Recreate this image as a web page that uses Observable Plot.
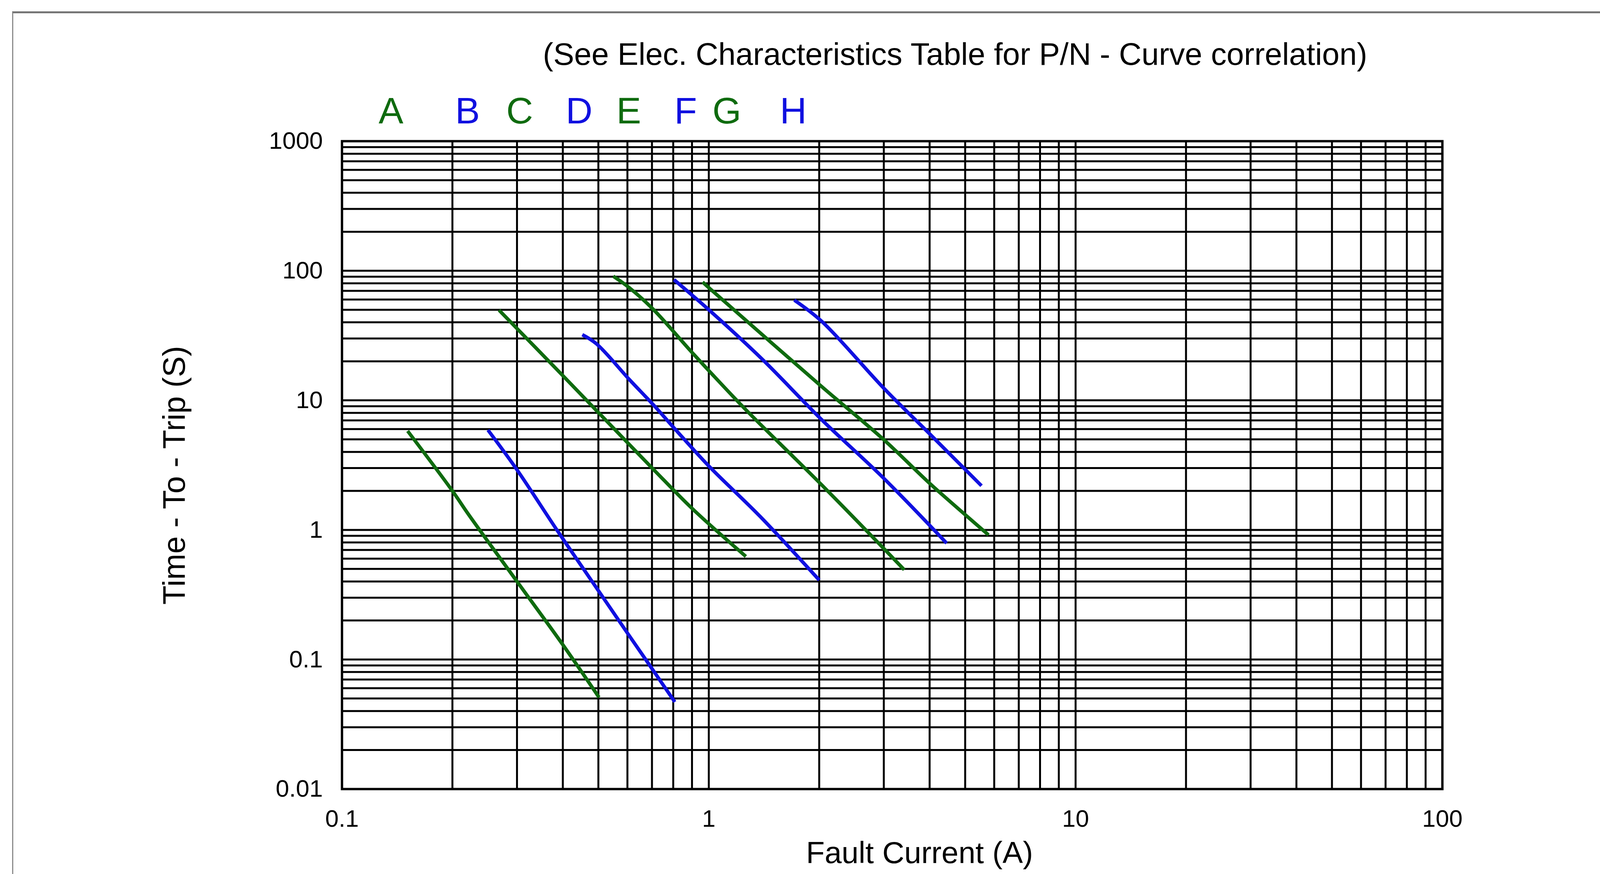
<!DOCTYPE html>
<html>
<head>
<meta charset="utf-8">
<script src="https://cdn.jsdelivr.net/npm/d3@7"></script>
<script src="https://cdn.jsdelivr.net/npm/@observablehq/plot@0.6"></script>
<style>
  html, body { margin: 0; padding: 0; background: #ffffff; overflow: hidden; }
  body { width: 4251px; height: 2238px; position: relative; font-family: "Liberation Sans", Arial, Helvetica, sans-serif; }
  #sheet { position: absolute; left: 31px; top: 29px; width: 4300px; height: 2300px;
           border-top: 5px solid #767676; border-left: 3px solid #8c8c8c; pointer-events: none; }
  #header { position: relative; height: 200px; }
  #title { position: absolute; left: 2445px; top: 99px; transform: translateX(-50%);
           font-size: 80px; line-height: 80px; white-space: nowrap; color: #000; }
  #chart svg { display: block; }
</style>
</head>
<body>
<div id="sheet"></div>
<div id="header"><div id="title">(See Elec. Characteristics Table for P/N - Curve correlation)</div></div>
<div id="chart"></div>
<script>
// ---- data ----
const curveNames = ["A", "B", "C", "D", "E", "F", "G", "H"];

const currentA = [0.151, 0.2, 0.222, 0.3, 0.4, 0.502];
const timeA    = [5.8, 2.0, 1.3, 0.40, 0.13, 0.051];

const currentB = [0.25, 0.299, 0.39, 0.5, 0.6, 0.7, 0.808];
const timeB    = [5.9, 2.95, 0.95, 0.34, 0.16, 0.085, 0.047];

const currentC = [0.268, 0.401, 0.502, 0.705, 0.906, 1.262];
const timeC    = [49.7, 15.4, 7.96, 2.95, 1.44, 0.624];

const currentD = [0.452, 0.494, 0.607, 0.712, 0.809, 1.007, 1.38, 2.0];
const timeD    = [32.1, 27.3, 14.5, 9.0, 6.0, 3.05, 1.27, 0.41];

const currentE = [0.549, 0.607, 0.705, 0.893, 1.007, 1.27, 2.03, 3.41];
const timeE    = [90.8, 74, 50.5, 24.0, 16.6, 8.3, 2.23, 0.493];

const currentF = [0.804, 1.0, 1.40, 2.03, 3.0, 4.45];
const timeF    = [85.3, 50, 20.7, 7.1, 2.5, 0.79];

const currentG = [0.962, 1.0, 2.03, 3.0, 4.04, 5.79];
const timeG    = [81.8, 74, 12.8, 4.97, 2.23, 0.914];

const currentH = [1.71, 2.03, 3.0, 4.04, 5.54];
const timeH    = [59.4, 40.8, 12.4, 5.36, 2.19];

const xTickLabels = [0.1, 1, 10, 100];
const yTickLabels = [0.01, 0.1, 1, 10, 100, 1000];

// ---- styling ----
const GREEN = "#0f6b0f";
const BLUE = "#1010e0";
const curveColor = {A: GREEN, B: BLUE, C: GREEN, D: BLUE, E: GREEN, F: BLUE, G: GREEN, H: BLUE};
const letterCurrent = [0.136, 0.22, 0.305, 0.443, 0.605, 0.865, 1.12, 1.70]; // label anchor along x

const series = {
  A: [currentA, timeA], B: [currentB, timeB], C: [currentC, timeC], D: [currentD, timeD],
  E: [currentE, timeE], F: [currentF, timeF], G: [currentG, timeG], H: [currentH, timeH]
};
const rows = curveNames.flatMap(name => {
  const [cs, ts] = series[name];
  return cs.map((c, i) => ({curve: name, current: c, time: ts[i], color: curveColor[name]}));
});
const letters = curveNames.map((name, i) => ({name, current: letterCurrent[i], color: curveColor[name]}));

const xDomain = [0.1, 100];
const yDomain = [0.01, 1000];
const xGrid = d3.scaleLog().domain(xDomain).ticks();
const yGrid = d3.scaleLog().domain(yDomain).ticks();

const FONT = "'Liberation Sans', Arial, Helvetica, sans-serif";

const chart = Plot.plot({
  width: 4251,
  height: 2038,
  marginLeft: 875,
  marginRight: 559,
  marginTop: 161,
  marginBottom: 218,
  x: {type: "log", domain: xDomain},
  y: {type: "log", domain: yDomain},
  color: {type: "identity"},
  style: {fontFamily: FONT, background: "white", overflow: "visible", color: "#000"},
  marks: [
    Plot.gridX(xGrid, {stroke: "black", strokeOpacity: 1, strokeWidth: 5}),
    Plot.gridY(yGrid, {stroke: "black", strokeOpacity: 1, strokeWidth: 5}),
    Plot.frame({stroke: "black", strokeWidth: 6}),
    Plot.axisX(xTickLabels, {tickSize: 0, tickPadding: 52, fontSize: 62, tickFormat: d => String(d), label: null}),
    Plot.axisY(yTickLabels, {tickSize: 0, tickPadding: 49, fontSize: 62, tickFormat: d => String(d), label: null}),
    Plot.line(rows, {x: "current", y: "time", z: "curve", stroke: "color", strokeWidth: 9, curve: "catmull-rom", strokeLinecap: "butt"}),
    Plot.text(letters, {x: "current", text: "name", fill: "color", frameAnchor: "top", lineAnchor: "middle", dy: -76, fontSize: 95}),
    Plot.text(["Fault Current (A)"], {frameAnchor: "bottom", lineAnchor: "middle", textAnchor: "middle", dx: 70, dy: 165, fontSize: 78, fill: "#000"}),
    Plot.text(["Time - To - Trip (S)"], {frameAnchor: "left", lineAnchor: "middle", textAnchor: "middle", rotate: -90, dx: -428, dy: 26, fontSize: 80, fill: "#000"})
  ]
});
document.getElementById("chart").appendChild(chart);
</script>
</body>
</html>
